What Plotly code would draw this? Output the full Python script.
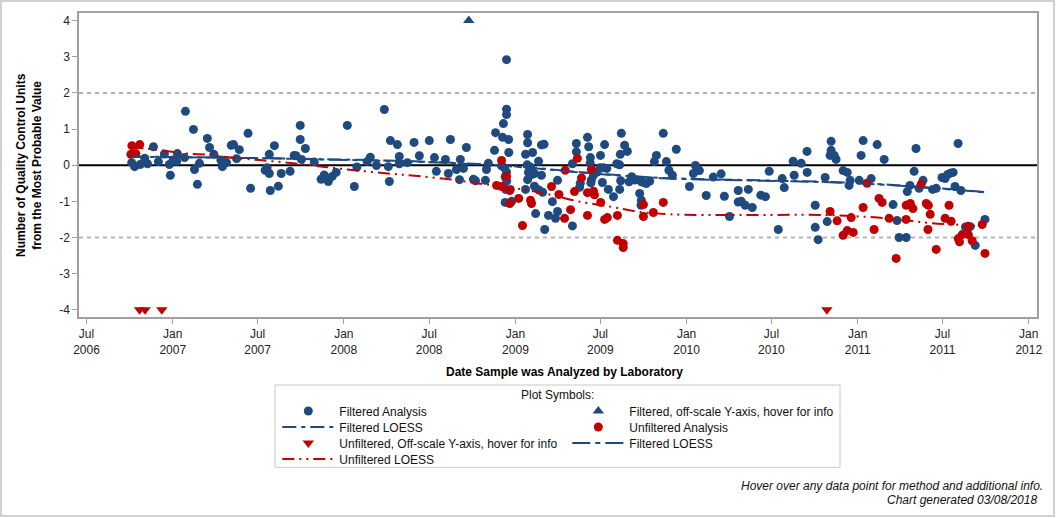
import plotly.graph_objects as go
from datetime import datetime, timedelta

# ---------------- data (dates as decimal years, values in QC units) ----------------
filt_year = [
    2006.760, 2006.777, 2006.810, 2006.836, 2006.852, 2006.887, 2006.916, 2006.951, 2006.986, 2006.980,
    2007.002, 2007.023, 2007.027, 2007.069, 2007.074, 2007.121, 2007.127, 2007.144, 2007.156, 2007.202,
    2007.215, 2007.240, 2007.281, 2007.290, 2007.314, 2007.342, 2007.355, 2007.389, 2007.373, 2007.440,
    2007.455, 2007.540, 2007.551, 2007.564, 2007.570, 2007.564, 2007.594, 2007.617, 2007.634, 2007.686,
    2007.710, 2007.720, 2007.745, 2007.745, 2007.752, 2007.775, 2007.827, 2007.867, 2007.885, 2007.909,
    2007.932, 2007.955, 2008.020, 2008.061, 2008.076, 2008.136, 2008.154, 2008.190, 2008.236, 2008.259,
    2008.265, 2008.271, 2008.312, 2008.323, 2008.323, 2008.370, 2008.409, 2008.440, 2008.498, 2008.528,
    2008.539, 2008.592, 2008.609, 2008.621, 2008.656, 2008.679, 2008.697, 2008.714, 2008.674, 2008.755,
    2008.767, 2008.825, 2008.831, 2008.842, 2008.878, 2008.884, 2008.925, 2008.930, 2008.948, 2008.948,
    2008.948, 2008.960, 2008.961, 2008.919, 2008.936, 2008.948, 2008.940, 2008.949, 2008.943, 2008.940,
    2008.978, 2008.970, 2009.059, 2009.071, 2009.071, 2009.100, 2009.135, 2009.069, 2009.087, 2009.076,
    2009.096, 2009.111, 2009.152, 2009.071, 2009.111, 2009.059, 2009.138, 2009.159, 2009.118, 2009.171,
    2009.152, 2009.167, 2009.193, 2009.234, 2009.246, 2009.246, 2009.216, 2009.333, 2009.333, 2009.356,
    2009.356, 2009.379, 2009.375, 2009.421, 2009.428, 2009.438, 2009.437, 2009.441, 2009.456, 2009.477,
    2009.444, 2009.497, 2009.521, 2009.495, 2009.514, 2009.534, 2009.543, 2009.508, 2009.573, 2009.609,
    2009.615, 2009.613, 2009.619, 2009.638, 2009.654, 2009.592, 2009.609, 2009.664, 2009.680, 2009.698,
    2009.726, 2009.736, 2009.734, 2009.736, 2009.750, 2009.765, 2009.785, 2009.812, 2009.824, 2009.864,
    2009.882, 2009.897, 2009.917, 2009.940, 2010.017, 2010.040, 2010.052, 2010.075, 2010.115, 2010.156,
    2010.202, 2010.221, 2010.251, 2010.302, 2010.302, 2010.320, 2010.343, 2010.361, 2010.384, 2010.434,
    2010.461, 2010.483, 2010.536, 2010.559, 2010.571, 2010.623, 2010.629, 2010.670, 2010.704, 2010.705,
    2010.752, 2010.752, 2010.769, 2010.810, 2010.822, 2010.845, 2010.845, 2010.839, 2010.863, 2010.874,
    2010.915, 2010.939, 2010.956, 2010.950, 2011.009, 2011.020, 2011.032, 2011.079, 2011.114, 2011.155,
    2011.207, 2011.230, 2011.242, 2011.284, 2011.290, 2011.306, 2011.330, 2011.341, 2011.359, 2011.382,
    2011.438, 2011.459, 2011.493, 2011.511, 2011.525, 2011.542, 2011.558, 2011.569, 2011.587, 2011.603,
    2011.630, 2011.658, 2011.687, 2011.744,
]
filt_value = [
    0.07, -0.04, 0.02, 0.19, 0.04, 0.51, 0.10, 0.31, -0.28, 0.02,
    0.14, 0.11, 0.32, 0.21, 1.49, 0.99, -0.12, -0.53, 0.05, 0.74,
    0.49, 0.30, 0.14, -0.04, 0.07, 0.55, 0.57, 0.43, 0.18, 0.88,
    -0.64, -0.14, -0.07, 0.30, -0.70, -0.23, 0.54, -0.58, -0.23, -0.17,
    0.27, 0.26, 1.10, 0.71, 0.16, 0.46, 0.09, -0.39, -0.27, -0.45,
    -0.31, -0.20, 1.10, -0.59, -0.05, 0.10, 0.22, -0.01, 1.54, -0.04,
    -0.45, 0.68, 0.57, 0.24, 0.04, 0.07, 0.63, 0.26, 0.68, 0.21,
    -0.17, 0.16, -0.23, 0.71, -0.12, 0.16, -0.09, 0.49, -0.40, -0.39,
    -0.43, -0.42, -0.12, 0.05, 0.41, 0.90, 0.77, 1.15, 1.55, 1.40,
    2.92, 0.71, 0.35, -0.02, -0.07, -0.19, -0.32, -0.44, -0.67, -1.03,
    -1.00, -0.67, 0.30, 0.85, 0.62, 0.35, 0.11, 0.01, -0.05, -0.20,
    -0.26, -0.23, -0.28, -0.40, -0.58, -0.67, -0.69, -0.75, -1.34, -1.78,
    0.56, 0.58, -1.39, -1.47, -1.28, -0.42, -1.01, 0.04, -1.68, 0.60,
    0.37, -0.50, -0.61, 0.77, 0.51, 0.21, 0.06, -0.49, -0.28, -0.19,
    -0.41, 0.27, 0.57, -0.07, -0.07, -0.09, -0.67, -0.48, -0.87, -0.67,
    -0.43, 0.30, 0.88, 0.55, 0.38, 0.04, 0.01, -0.46, -0.32, -0.41,
    -0.78, -0.97, -1.11, -0.46, -0.48, -0.51, -0.44, 0.10, 0.27, 0.88,
    0.10, -0.14, -0.28, 0.44, -0.59, -0.23, -0.01, -0.15, -0.84, -0.33,
    -0.24, -0.86, -1.42, -0.70, -1.02, -1.00, -1.11, -0.67, -1.17, -0.83,
    -0.87, -0.17, -1.78, -0.37, -0.62, 0.11, -0.28, 0.05, 0.38, -0.20,
    -1.11, -1.72, -2.06, -0.34, -1.56, 0.66, 0.41, 0.27, 0.27, 0.16,
    -0.15, -0.20, -0.42, -0.56, -0.42, 0.27, 0.68, -0.37, 0.57, 0.16,
    -1.09, -1.53, -2.00, -2.00, -0.73, -0.56, -0.17, 0.46, -0.64, -0.42,
    -0.67, -0.64, -0.34, -0.37, -0.26, -0.22, -0.20, -0.59, 0.60, -0.70,
    -1.71, -1.70, -2.22, -1.50,
]

unf_year = [
    2006.761, 2006.807, 2006.755, 2006.784, 2008.919, 2008.948, 2008.890, 2008.919, 2008.967, 2008.967,
    2009.019, 2009.041, 2009.088, 2009.094, 2009.211, 2009.254, 2009.287, 2009.291, 2009.322, 2009.345,
    2009.362, 2009.386, 2009.421, 2009.421, 2009.444, 2009.456, 2009.462, 2009.498, 2009.521, 2009.537,
    2009.596, 2009.596, 2009.630, 2009.630, 2009.748, 2009.748, 2009.806, 2009.864, 2010.839, 2010.880,
    2010.915, 2010.939, 2010.962, 2010.974, 2011.032, 2011.055, 2011.096, 2011.125, 2011.143, 2011.184,
    2011.225, 2011.283, 2011.284, 2011.308, 2011.323, 2011.371, 2011.401, 2011.413, 2011.424, 2011.411,
    2011.459, 2011.511, 2011.534, 2011.546, 2011.588, 2011.595, 2011.611, 2011.645, 2011.647, 2011.669,
    2011.728, 2011.744,
]
unf_value = [
    0.54, 0.57, 0.30, 0.32, 0.13, -0.31, -0.56, -0.59, -0.70, -1.06,
    -0.92, -1.67, -0.97, -1.06, -0.59, -0.81, -1.47, -0.14, -1.23, -0.73,
    0.19, -0.35, -0.76, -1.39, -0.12, -0.72, -0.82, -1.03, -1.50, -1.45,
    -1.39, -2.08, -2.17, -2.28, -1.09, -1.42, -1.31, -1.03, -1.28, -1.54,
    -1.94, -1.81, -1.45, -1.86, -1.17, -0.50, -1.78, -0.92, -1.03, -1.47,
    -2.58, -1.50, -1.11, -1.06, -1.20, -0.53, -1.06, -1.11, -1.36, -1.78,
    -2.33, -1.47, -1.11, -1.55, -2.03, -2.12, -1.92, -1.69, -1.92, -2.09,
    -1.64, -2.44,
]

filt_off_year = [2008.728]
filt_off_value = [4]
unf_off_year = [2006.806, 2006.838, 2006.936, 2010.820]
unf_off_value = [-4, -4, -4, -4]

floess_year = [2006.757, 2007.422, 2007.948, 2008.397, 2008.788, 2009.080,
               2009.372, 2009.851, 2010.341, 2010.995, 2011.480, 2011.742]
floess_value = [0.23, 0.20, 0.16, 0.11, 0.03, -0.06, -0.19, -0.35, -0.41, -0.49, -0.64, -0.74]
floess2_value = [0.24, 0.20, 0.15, 0.10, 0.02, -0.07, -0.20, -0.36, -0.42, -0.50, -0.65, -0.75]

uloess_year = [2006.757, 2006.845, 2006.961, 2007.090, 2007.224, 2007.341, 2007.510, 2007.714,
               2007.890, 2008.065, 2008.257, 2008.432, 2008.648, 2008.824, 2009.040, 2009.215,
               2009.366, 2009.559, 2009.717, 2009.909, 2010.318, 2010.808, 2011.118, 2011.275,
               2011.421, 2011.637, 2011.731]
uloess_value = [0.48, 0.46, 0.39, 0.32, 0.28, 0.21, 0.14, 0.05, -0.05, -0.14, -0.23, -0.30,
                -0.41, -0.53, -0.67, -0.83, -1.00, -1.15, -1.29, -1.36, -1.38, -1.38, -1.45,
                -1.52, -1.60, -1.66, -1.69]

x_tick_dates = ["2006-07-01", "2007-01-01", "2007-07-01", "2008-01-01", "2008-07-01", "2009-01-01",
                "2009-07-01", "2010-01-01", "2010-07-01", "2011-01-01", "2011-07-01", "2012-01-01"]
x_tick_labels = ["Jul<br>2006", "Jan<br>2007", "Jul<br>2007", "Jan<br>2008", "Jul<br>2008", "Jan<br>2009",
                 "Jul<br>2009", "Jan<br>2010", "Jul<br>2010", "Jan<br>2011", "Jul<br>2011", "Jan<br>2012"]
y_tick_vals = [-4, -3, -2, -1, 0, 1, 2, 3, 4]
y_tick_labels = ["-4", "-3", "-2", "-1", "0", "1", "2", "3", "4"]
x_range_years = [2006.452, 2012.048]


def yr2date(y):
    yr = int(y)
    start = datetime(yr, 1, 1)
    days = (datetime(yr + 1, 1, 1) - start).days
    return start + timedelta(days=(y - yr) * days)


def dates(lst):
    return [yr2date(v) for v in lst]


BLUE = "#1f4a7f"
RED = "#c00000"
FONT = "Liberation Sans, Arial, sans-serif"

fig = go.Figure()

fig.add_trace(go.Scatter(x=dates(filt_year), y=filt_value, mode="markers", name="Filtered Analysis",
                         marker=dict(symbol="circle", size=9, color=BLUE), legend="legend"))
fig.add_trace(go.Scatter(x=dates(filt_off_year), y=filt_off_value, mode="markers",
                         name="Filtered, off-scale Y-axis, hover for info",
                         marker=dict(symbol="triangle-up", size=10, color=BLUE), legend="legend"))
fig.add_trace(go.Scatter(x=dates(floess_year), y=floess_value, mode="lines", name="Filtered LOESS",
                         line=dict(color=BLUE, width=2, dash="14px,5px,4px,5px", shape="spline"),
                         legend="legend2"))
fig.add_trace(go.Scatter(x=dates(unf_year), y=unf_value, mode="markers", name="Unfiltered Analysis",
                         marker=dict(symbol="circle", size=9, color=RED), legend="legend2"))
fig.add_trace(go.Scatter(x=dates(unf_off_year), y=unf_off_value, mode="markers",
                         name="Unfiltered, Off-scale Y-axis, hover for info",
                         marker=dict(symbol="triangle-down", size=10, color=RED), legend="legend3"))
fig.add_trace(go.Scatter(x=dates(floess_year), y=floess2_value, mode="lines", name="Filtered LOESS",
                         line=dict(color=BLUE, width=2, dash="18px,5px,5px,5px", shape="spline"),
                         legend="legend3"))
fig.add_trace(go.Scatter(x=dates(uloess_year), y=uloess_value, mode="lines", name="Unfiltered LOESS",
                         line=dict(color=RED, width=2, dash="12px,5px,2px,5px,2px,5px", shape="spline"),
                         legend="legend4"))

# reference lines
fig.add_shape(type="line", xref="paper", x0=0, x1=1, yref="y", y0=0, y1=0,
              line=dict(color="black", width=2), layer="below")
for yv in (2, -2):
    fig.add_shape(type="line", xref="paper", x0=0, x1=1, yref="y", y0=yv, y1=yv,
                  line=dict(color="#b4b4b4", width=2, dash="4px,4px"), layer="below")

# legend frame and outer frame
fig.add_shape(type="rect", xref="paper", yref="paper", x0=0.2046, x1=0.7944, y0=-0.4944, y1=-0.2237,
              line=dict(color="#c8c8c8", width=1))
fig.add_shape(type="rect", xref="paper", yref="paper", x0=-0.0814, x1=1.0177, y0=-0.6546, y1=1.0395,
              line=dict(color="#d0d0d0", width=2))

leg_common = dict(orientation="h", x=0.207, xanchor="left", yanchor="top", entrywidth=223,
                  entrywidthmode="pixels", itemwidth=52, bgcolor="rgba(0,0,0,0)", borderwidth=0,
                  font=dict(family=FONT, size=12, color="#111"), traceorder="normal")

fig.update_layout(
    width=1056, height=518,
    margin=dict(l=79, r=19, t=13, b=201, autoexpand=False),
    paper_bgcolor="white", plot_bgcolor="white",
    font=dict(family=FONT, size=12, color="#222"),
    showlegend=True,
    legend=dict(y=-0.2615, **leg_common),
    legend2=dict(y=-0.3141, **leg_common),
    legend3=dict(y=-0.3668, **leg_common),
    legend4=dict(y=-0.4194, **leg_common),
    xaxis=dict(type="date", range=[yr2date(x_range_years[0]), yr2date(x_range_years[1])],
               tickvals=x_tick_dates, ticktext=x_tick_labels, ticks="outside", ticklen=5,
               tickcolor="#a0a0a0", showline=True, linecolor="#a0a0a0", linewidth=1.5, mirror=True,
               showgrid=False, zeroline=False, tickfont=dict(family=FONT, size=12, color="#222")),
    yaxis=dict(range=[-4.2, 4.21], tickvals=y_tick_vals, ticktext=y_tick_labels, ticks="outside",
               ticklen=5, tickcolor="#a0a0a0", showline=True, linecolor="#a0a0a0", linewidth=1.5,
               mirror=True, showgrid=False, zeroline=False,
               tickfont=dict(family=FONT, size=12, color="#222")),
    annotations=[
        dict(text="<b>Number of Quality Control Units<br>from the Most Probable Value</b>",
             xref="paper", yref="paper", x=-0.0522, y=0.5, textangle=-90, showarrow=False,
             xanchor="center", yanchor="middle", font=dict(family=FONT, size=12, color="black")),
        dict(text="<b>Date Sample was Analyzed by Laboratory</b>", xref="paper", yref="paper",
             x=0.5063, y=-0.1809, showarrow=False, xanchor="center", yanchor="middle",
             font=dict(family=FONT, size=12, color="black")),
        dict(text="Plot Symbols:", xref="paper", yref="paper", x=0.4995, y=-0.2566, showarrow=False,
             xanchor="center", yanchor="middle", font=dict(family=FONT, size=12, color="#111")),
        dict(text="<i>Hover over any data point for method and additional info.</i>", xref="paper",
             yref="paper", x=1.0084, y=-0.555, showarrow=False, xanchor="right", yanchor="middle",
             font=dict(family=FONT, size=12, color="#111")),
        dict(text="<i>Chart generated 03/08/2018</i>", xref="paper", yref="paper", x=1.0021, y=-0.602,
             showarrow=False, xanchor="right", yanchor="middle",
             font=dict(family=FONT, size=12, color="#111")),
    ],
)

fig.write_html("out.html", config={"displayModeBar": False},
               post_script="document.body.style.margin='0';document.body.style.overflow='hidden';")
